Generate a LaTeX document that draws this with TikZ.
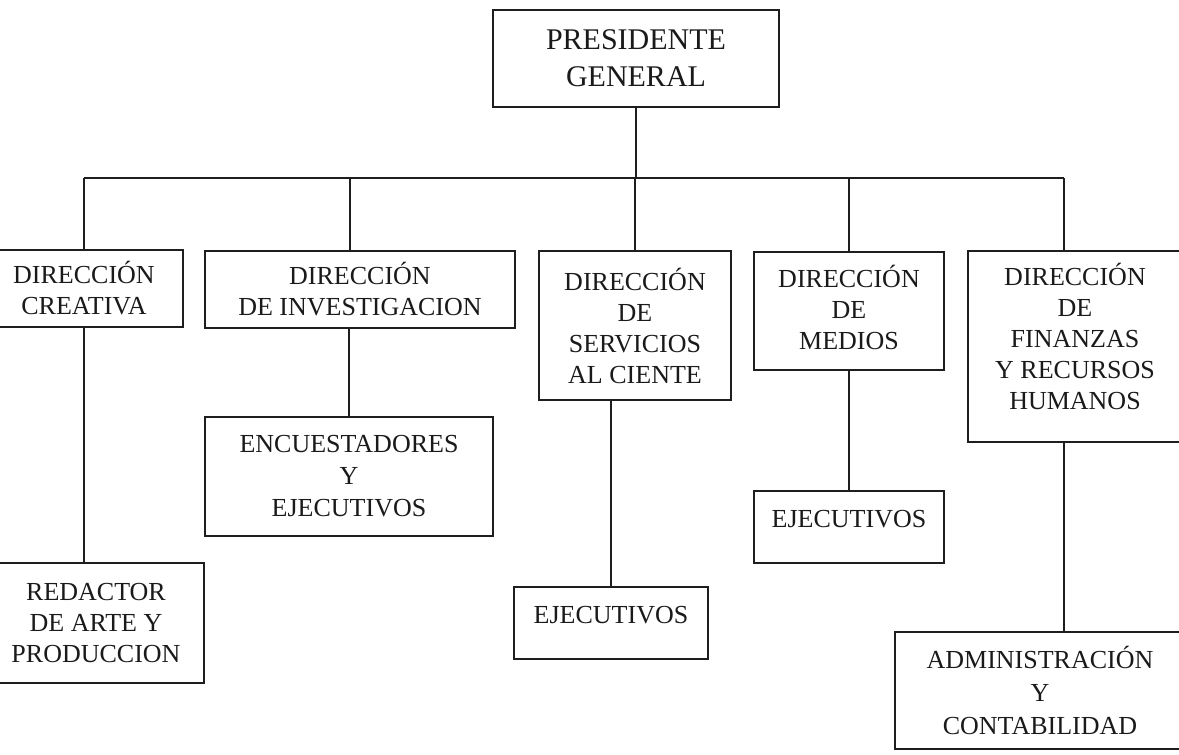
\documentclass[tikz,border=0pt]{standalone}
\usepackage{fontspec}
\setmainfont{Liberation Serif}
\definecolor{linec}{HTML}{1E1E1E}
\definecolor{textc}{HTML}{1A1A1A}
\begin{document}
\begin{tikzpicture}[x=1pt,y=-1pt,
  box/.style={draw=linec, line width=1.6pt, inner sep=0pt, align=center,
    text=textc, font=\fontsize{26}{31}\selectfont},
  conn/.style={draw=linec, line width=1.6pt}]
\clip (0,0) rectangle (1179,755);
\fill[white] (0,0) rectangle (1179,755);
% top
\node[box, minimum width=286, minimum height=97, font=\fontsize{30}{37}\selectfont] (pres) at (636,58.5) {PRESIDENTE\\GENERAL};
% directors
\node[box, minimum width=198, minimum height=77] (creat) at (84,288.5) {DIRECCIÓN\\CREATIVA};
\node[box, minimum width=310, minimum height=77] (inv) at (360,289.5) {DIRECCIÓN\\DE INVESTIGACION};
\node[box, minimum width=192, minimum height=149] (serv) at (635,325.5) {DIRECCIÓN\\DE\\SERVICIOS\\AL CIENTE};
\node[box, minimum width=190, minimum height=118] (med) at (849,311) {DIRECCIÓN\\DE\\MEDIOS\rule[-8pt]{0pt}{8pt}};
\node[box, minimum width=214, minimum height=191] (fin) at (1075,346.5) {DIRECCIÓN\\DE\\FINANZAS\\Y RECURSOS\\HUMANOS\rule[-20pt]{0pt}{20pt}};
% subordinates
\node[box, minimum width=288, minimum height=119, font=\fontsize{26}{32}\selectfont] (enc) at (349,476.5) {ENCUESTADORES\\Y\\EJECUTIVOS};
\node[box, minimum width=216, minimum height=120] (red) at (96,623) {REDACTOR\\DE ARTE Y\\PRODUCCION};
\node[box, minimum width=194, text height=36pt, text depth=36pt] (ejs) at (611,623) {EJECUTIVOS};
\node[box, minimum width=190, text height=36pt, text depth=36pt] (ejm) at (849,527) {EJECUTIVOS};
\node[box, minimum width=290, minimum height=117, font=\fontsize{26}{33}\selectfont] (adm) at (1040,690.5) {ADMINISTRACIÓN\\Y\\CONTABILIDAD};
% bus
\coordinate (busL) at (84,178);
\coordinate (busR) at (1064,178);
\coordinate (busC) at (636,178);
\coordinate (tInv) at (350,178);
\coordinate (tServ) at (635,178);
\coordinate (tMed) at (849,178);
\draw[conn] (pres.south) -- (busC);
\draw[conn] (busL) -- (busR);
\draw[conn] (busL) -- (busL |- creat.north);
\draw[conn] (tInv) -- (tInv |- inv.north);
\draw[conn] (tServ) -- (tServ |- serv.north);
\draw[conn] (tMed) -- (tMed |- med.north);
\draw[conn] (busR) -- (busR |- fin.north);
% lower connectors
\draw[conn] (creat.south) -- (red.north -| creat.south);
\draw[conn] (enc.north) -- (enc.north |- inv.south);
\draw[conn] (ejs.north) -- (ejs.north |- serv.south);
\draw[conn] (med.south) -- (ejm.north);
\draw[conn] (fin.south -| busR) -- (adm.north -| busR);
\end{tikzpicture}
\end{document}
